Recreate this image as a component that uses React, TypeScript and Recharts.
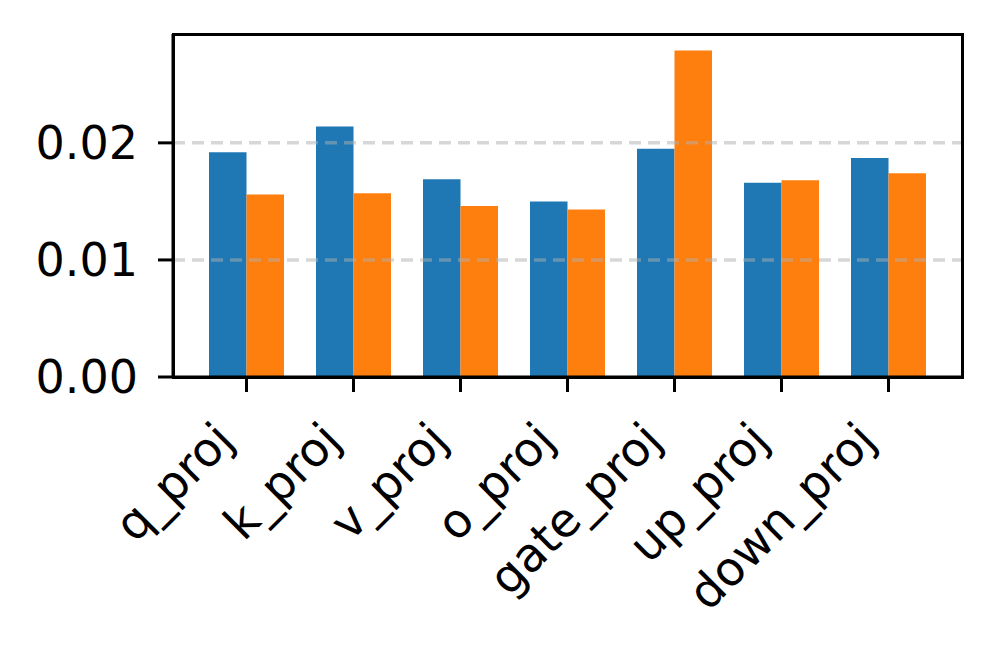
import React from 'react';
import { BarChart, Bar, XAxis, YAxis, ReferenceLine } from 'recharts';

const categories = ['q_proj', 'k_proj', 'v_proj', 'o_proj', 'gate_proj', 'up_proj', 'down_proj'];
const seriesA = [0.0192, 0.0214, 0.0169, 0.0150, 0.0195, 0.0166, 0.0187];
const seriesB = [0.0156, 0.0157, 0.0146, 0.0143, 0.0279, 0.0168, 0.0174];
const yTicks = [0, 0.01, 0.02];
const gridValues = [0.01, 0.02];

const data = categories.map((name, i) => ({ name, a: seriesA[i], b: seriesB[i] }));

const FONT = '"DejaVu Sans", sans-serif';

const XTick = (props: any) => {
  const { x, y, payload } = props;
  const ax = x - 22;
  const ay = y + 37;
  return (
    <text
      x={ax}
      y={ay}
      transform={`rotate(-45 ${ax} ${ay})`}
      textAnchor="end"
      dominantBaseline="central"
      fontSize={47}
      fontFamily={FONT}
      fill="#000"
    >
      {payload.value}
    </text>
  );
};

export default function App() {
  return (
    <div style={{ position: 'absolute', left: 0, top: 0, width: 996, height: 651, background: '#fff' }}>
      <BarChart
        width={996}
        height={651}
        data={data}
        margin={{ top: 34, right: 34, left: 0, bottom: 0 }}
        barGap={0}
        barSize={37.5}
      >
        <XAxis
          dataKey="name"
          interval={0}
          padding={{ left: 20, right: 20 }}
          height={274}
          tickSize={15}
          axisLine={{ stroke: '#000', strokeWidth: 3 }}
          tickLine={{ stroke: '#000', strokeWidth: 3 }}
          tick={<XTick />}
        />
        <YAxis
          width={173}
          domain={[0, 0.0293]}
          ticks={yTicks}
          allowDataOverflow
          tickFormatter={(v: number) => v.toFixed(2)}
          tickSize={15}
          tickMargin={20}
          axisLine={{ stroke: '#000', strokeWidth: 3 }}
          tickLine={{ stroke: '#000', strokeWidth: 3 }}
          tick={{ fill: '#000', fontSize: 46, fontFamily: FONT }}
        />
        <Bar dataKey="a" fill="#1f77b4" isAnimationActive={false} />
        <Bar dataKey="b" fill="#ff7f0e" isAnimationActive={false} />
        {gridValues.map((v) => (
          <ReferenceLine
            key={v}
            y={v}
            stroke="#b0b0b0"
            strokeOpacity={0.5}
            strokeWidth={3.5}
            strokeDasharray="12 7"
          />
        ))}
      </BarChart>
      <div
        style={{
          position: 'absolute',
          left: 171.5,
          top: 32.5,
          width: 792,
          height: 346,
          border: '3px solid #000',
          boxSizing: 'border-box',
          pointerEvents: 'none',
        }}
      />
    </div>
  );
}
